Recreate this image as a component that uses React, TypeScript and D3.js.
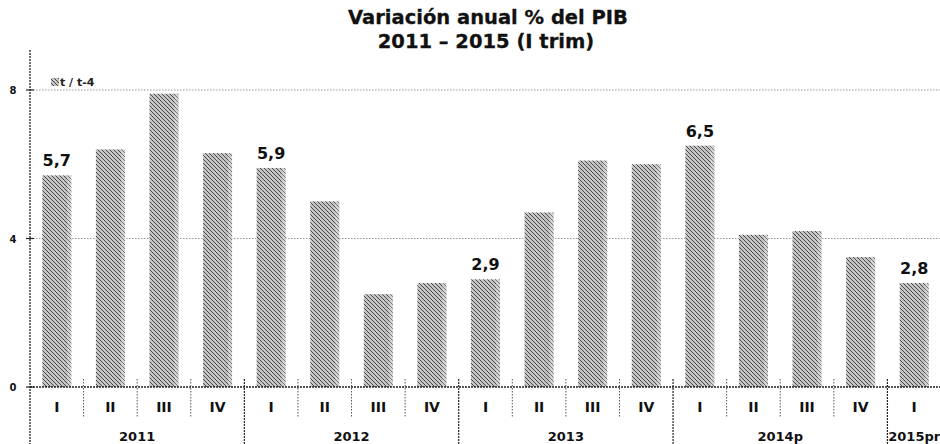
import React from "react";
import * as d3 from "d3";

const years = ["2011", "2012", "2013", "2014p", "2015pr"];
const quarters = ["I", "II", "III", "IV", "I", "II", "III", "IV", "I", "II", "III", "IV", "I", "II", "III", "IV", "I"];
const quarterYear = [0, 0, 0, 0, 1, 1, 1, 1, 2, 2, 2, 2, 3, 3, 3, 3, 4];
const values = [5.7, 6.4, 7.9, 6.3, 5.9, 5.0, 2.5, 2.8, 2.9, 4.7, 6.1, 6.0, 6.5, 4.1, 4.2, 3.5, 2.8];
const labeled = [true, false, false, false, true, false, false, false, true, false, false, false, true, false, false, false, true];
const yTicks = [0, 4, 8];
const titleLines = ["Variación anual % del PIB", "2011 – 2015 (I trim)"];
const legendLabel = "t / t-4";

const W = 940;
const H = 444;
const FONT = "'DejaVu Sans', Verdana, sans-serif";

export default function App() {
  const keys = values.map((_, i) => String(i));
  const x = d3.scaleBand<string>().domain(keys).range([30, 941]).padding(0);
  const y = d3.scaleLinear().domain([0, 8]).range([387, 90]);
  const bw = 29;
  const bandW = x.bandwidth();

  const yearSpans = years.map((yr, yi) => {
    const idx = quarterYear.map((q, i) => (q === yi ? i : -1)).filter((i) => i >= 0);
    const x0 = x(String(idx[0]))!;
    const x1 = x(String(idx[idx.length - 1]))! + bandW;
    return { yr, x0, x1 };
  });

  const fmt = (v: number) => v.toFixed(1).replace(".", ",");

  return (
    <svg
      width={W}
      height={H}
      style={{ position: "absolute", left: 0, top: 0, background: "#fff" }}
      fontFamily={FONT}
    >
      <defs>
        <pattern id="hatch" width="4" height="4" patternUnits="userSpaceOnUse">
          <rect width="4" height="4" fill="#c4c4c4" />
          <path d="M-1,-1 L5,5 M3,-1 L5,1 M-1,3 L1,5" stroke="#4a4a4a" strokeWidth="1" />
        </pattern>
      </defs>

      {/* title */}
      <text x={488} y={24} textAnchor="middle" fontSize={19.5} fontWeight="bold" fill="#111" stroke="#111" strokeWidth={0.3}>
        {titleLines[0]}
      </text>
      <text x={486} y={48} textAnchor="middle" fontSize={19.5} fontWeight="bold" fill="#111" stroke="#111" strokeWidth={0.3}>
        {titleLines[1]}
      </text>

      {/* gridlines */}
      {yTicks.filter((t) => t > 0).map((t) => (
        <line
          key={"g" + t}
          x1={30}
          x2={W}
          y1={y(t)}
          y2={y(t)}
          stroke="#999"
          strokeWidth={1}
          strokeDasharray="1.5,1.5"
        />
      ))}

      {/* legend */}
      <rect x={51} y={78} width={8} height={8} fill="url(#hatch)" />
      <text x={60} y={86} fontSize={11} fontWeight="bold" fill="#222">
        {legendLabel}
      </text>

      {/* bars */}
      {values.map((v, i) => {
        const bx = x(String(i))! + (bandW - bw) / 2;
        return (
          <g key={"b" + i}>
            <rect x={bx} y={y(v)} width={bw} height={y(0) - y(v)} fill="url(#hatch)" />
            <rect x={bx + bw - 4} y={y(v)} width={4} height={y(0) - y(v)} fill="#fff" opacity={0.25} />
            {labeled[i] && (
              <text
                x={bx + bw / 2}
                y={y(v) - 9}
                textAnchor="middle"
                fontSize={16}
                fontWeight="bold"
                fill="#111"
              >
                {fmt(v)}
              </text>
            )}
          </g>
        );
      })}

      {/* y axis */}
      <line x1={30} x2={30} y1={50} y2={H} stroke="#222" strokeWidth={1.3} strokeDasharray="2,1" />
      {yTicks.map((t) => (
        <g key={"yt" + t}>
          <line x1={26} x2={34} y1={y(t)} y2={y(t)} stroke="#222" strokeWidth={1.2} />
          <text x={13} y={y(t) + 4} textAnchor="middle" fontSize={10} fontWeight="bold" fill="#111">
            {t}
          </text>
        </g>
      ))}

      {/* baseline */}
      <line x1={30} x2={W} y1={y(0)} y2={y(0)} stroke="#222" strokeWidth={1.3} strokeDasharray="2,1" />

      {/* quarter separators */}
      {values.map((_, i) => {
        if (i === 0) return null;
        const sx = x(String(i))!;
        const isYear = quarterYear[i] !== quarterYear[i - 1];
        return (
          <line
            key={"s" + i}
            x1={sx}
            x2={sx}
            y1={379}
            y2={isYear ? H : 418}
            stroke={isYear ? "#222" : "#555"}
            strokeWidth={isYear ? 1.2 : 1}
            strokeDasharray={isYear ? "2,1" : "1.5,1.5"}
          />
        );
      })}

      {/* quarter labels */}
      {quarters.map((q, i) => (
        <text
          key={"q" + i}
          x={x(String(i))! + bandW / 2}
          y={412}
          textAnchor="middle"
          fontSize={14}
          fontWeight="bold"
          fill="#111"
        >
          {q}
        </text>
      ))}

      {/* year labels */}
      {yearSpans.map((s) => (
        <text
          key={"y" + s.yr}
          x={(s.x0 + s.x1) / 2}
          y={441}
          textAnchor="middle"
          fontSize={13}
          fontWeight="bold"
          fill="#111"
        >
          {s.yr}
        </text>
      ))}
    </svg>
  );
}
